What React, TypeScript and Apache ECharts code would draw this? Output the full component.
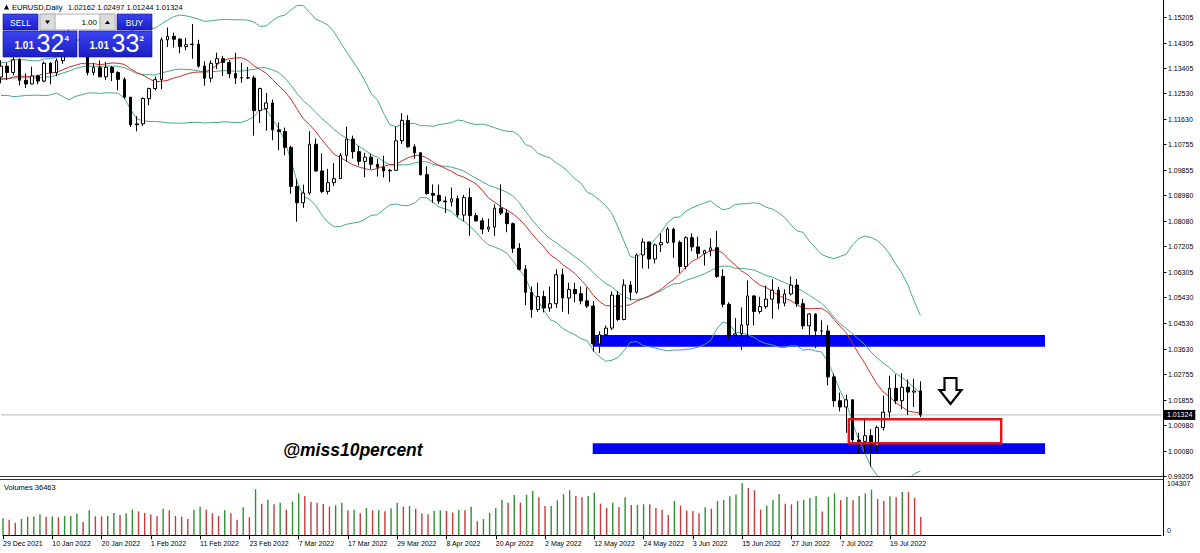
import React, { useEffect, useRef } from 'react';
import * as echarts from 'echarts';

// ---- EURUSD daily bars, 29 Dec 2021 .. 26 Jul 2022 ----
const dates: string[] = [
  '29 Dec 2021', '30 Dec 2021', '31 Dec 2021',
  '3 Jan 2022', '4 Jan 2022', '5 Jan 2022', '6 Jan 2022', '7 Jan 2022', '10 Jan 2022', '11 Jan 2022', '12 Jan 2022', '13 Jan 2022', '14 Jan 2022',
  '17 Jan 2022', '18 Jan 2022', '19 Jan 2022', '20 Jan 2022', '21 Jan 2022', '24 Jan 2022', '25 Jan 2022', '26 Jan 2022', '27 Jan 2022', '28 Jan 2022', '31 Jan 2022',
  '1 Feb 2022', '2 Feb 2022', '3 Feb 2022', '4 Feb 2022', '7 Feb 2022', '8 Feb 2022', '9 Feb 2022', '10 Feb 2022', '11 Feb 2022', '14 Feb 2022',
  '15 Feb 2022', '16 Feb 2022', '17 Feb 2022', '18 Feb 2022', '21 Feb 2022', '22 Feb 2022', '23 Feb 2022', '24 Feb 2022', '25 Feb 2022', '28 Feb 2022',
  '1 Mar 2022', '2 Mar 2022', '3 Mar 2022', '4 Mar 2022', '7 Mar 2022', '8 Mar 2022', '9 Mar 2022', '10 Mar 2022', '11 Mar 2022', '14 Mar 2022',
  '15 Mar 2022', '16 Mar 2022', '17 Mar 2022', '18 Mar 2022', '21 Mar 2022', '22 Mar 2022', '23 Mar 2022', '24 Mar 2022', '25 Mar 2022', '28 Mar 2022',
  '29 Mar 2022', '30 Mar 2022', '31 Mar 2022',
  '1 Apr 2022', '4 Apr 2022', '5 Apr 2022', '6 Apr 2022', '7 Apr 2022', '8 Apr 2022', '11 Apr 2022', '12 Apr 2022', '13 Apr 2022', '14 Apr 2022',
  '15 Apr 2022', '18 Apr 2022', '19 Apr 2022', '20 Apr 2022', '21 Apr 2022', '22 Apr 2022', '25 Apr 2022', '26 Apr 2022', '27 Apr 2022', '28 Apr 2022', '29 Apr 2022',
  '2 May 2022', '3 May 2022', '4 May 2022', '5 May 2022', '6 May 2022', '9 May 2022', '10 May 2022', '11 May 2022', '12 May 2022', '13 May 2022',
  '16 May 2022', '17 May 2022', '18 May 2022', '19 May 2022', '20 May 2022', '23 May 2022', '24 May 2022', '25 May 2022', '26 May 2022', '27 May 2022',
  '30 May 2022', '31 May 2022',
  '1 Jun 2022', '2 Jun 2022', '3 Jun 2022', '6 Jun 2022', '7 Jun 2022', '8 Jun 2022', '9 Jun 2022', '10 Jun 2022', '13 Jun 2022', '14 Jun 2022',
  '15 Jun 2022', '16 Jun 2022', '17 Jun 2022', '20 Jun 2022', '21 Jun 2022', '22 Jun 2022', '23 Jun 2022', '24 Jun 2022', '27 Jun 2022', '28 Jun 2022',
  '29 Jun 2022', '30 Jun 2022',
  '1 Jul 2022', '4 Jul 2022', '5 Jul 2022', '6 Jul 2022', '7 Jul 2022', '8 Jul 2022', '11 Jul 2022', '12 Jul 2022', '13 Jul 2022', '14 Jul 2022',
  '15 Jul 2022', '18 Jul 2022', '19 Jul 2022', '20 Jul 2022', '21 Jul 2022', '22 Jul 2022', '25 Jul 2022', '26 Jul 2022',
];

const opens: number[] = [
  1.1310, 1.1348, 1.1326, 1.1370, 1.1299, 1.1286, 1.1314, 1.1296, 1.1358, 1.1325,
  1.1367, 1.1442, 1.1455, 1.1413, 1.1406, 1.1326, 1.1343, 1.1311, 1.1344, 1.1326,
  1.1302, 1.1240, 1.1144, 1.1147, 1.1235, 1.1270, 1.1301, 1.1440, 1.1452, 1.1442,
  1.1416, 1.1423, 1.1425, 1.1348, 1.1306, 1.1358, 1.1374, 1.1361, 1.1322, 1.1307,
  1.1308, 1.1307, 1.1193, 1.1200, 1.1220, 1.1126, 1.1120, 1.1065, 1.0929, 1.0872,
  1.0906, 1.1076, 1.0983, 1.0911, 1.0942, 1.0956, 1.1037, 1.1094, 1.1050, 1.1016,
  1.1031, 1.1006, 1.0996, 1.0983, 1.0985, 1.1088, 1.1159, 1.1067, 1.1046, 1.0970,
  1.0904, 1.0898, 1.0878, 1.0875, 1.0886, 1.0829, 1.0890, 1.0827, 1.0809, 1.0780,
  1.0787, 1.0853, 1.0836, 1.0799, 1.0713, 1.0640, 1.0560, 1.0500, 1.0545, 1.0505,
  1.0520, 1.0621, 1.0540, 1.0570, 1.0555, 1.0530, 1.0512, 1.0380, 1.0412, 1.0435,
  1.0550, 1.0465, 1.0585, 1.0560, 1.0690, 1.0735, 1.0676, 1.0725, 1.0733, 1.0780,
  1.0734, 1.0650, 1.0750, 1.0718, 1.0695, 1.0705, 1.0715, 1.0615, 1.0518, 1.0410,
  1.0415, 1.0446, 1.0547, 1.0493, 1.0510, 1.0536, 1.0567, 1.0522, 1.0554, 1.0585,
  1.0520, 1.0443, 1.0484, 1.0425, 1.0425, 1.0265, 1.0182, 1.0160, 1.0185, 1.0045,
  1.0040, 1.0060, 1.0025, 1.0088, 1.0142, 1.0225, 1.0182, 1.0229, 1.0212, 1.02162,
];

const highs: number[] = [
  1.1369, 1.1360, 1.1386, 1.1376, 1.1323, 1.1346, 1.1318, 1.1364, 1.1362, 1.1375,
  1.1453, 1.1482, 1.1471, 1.1429, 1.1412, 1.1358, 1.1368, 1.1363, 1.1348, 1.1330,
  1.1309, 1.1240, 1.1174, 1.1240, 1.1273, 1.1312, 1.1448, 1.1483, 1.1465, 1.1446,
  1.1446, 1.1495, 1.1440, 1.1365, 1.1368, 1.1395, 1.1384, 1.1370, 1.1395, 1.1360,
  1.1345, 1.1315, 1.1273, 1.1255, 1.1232, 1.1152, 1.1134, 1.1070, 1.0954, 1.0935,
  1.1121, 1.1096, 1.1044, 1.0990, 1.1010, 1.1045, 1.1137, 1.1106, 1.1070, 1.1046,
  1.1043, 1.1025, 1.1036, 1.0990, 1.1137, 1.1184, 1.1177, 1.1076, 1.1048, 1.0999,
  1.0936, 1.0935, 1.0894, 1.0925, 1.0897, 1.0899, 1.0924, 1.0836, 1.0819, 1.0817,
  1.0866, 1.0936, 1.0850, 1.0803, 1.0731, 1.0655, 1.0580, 1.0593, 1.0565, 1.0580,
  1.0640, 1.0642, 1.0593, 1.0593, 1.0580, 1.0577, 1.0529, 1.0424, 1.0444, 1.0563,
  1.0565, 1.0605, 1.0599, 1.0695, 1.0748, 1.0737, 1.0730, 1.0765, 1.0787, 1.0785,
  1.0740, 1.0755, 1.0765, 1.0754, 1.0708, 1.0748, 1.0774, 1.0640, 1.0525, 1.0470,
  1.0507, 1.0601, 1.0550, 1.0544, 1.0583, 1.0605, 1.0578, 1.0570, 1.0615, 1.0606,
  1.0537, 1.0487, 1.0486, 1.0462, 1.0445, 1.0276, 1.0210, 1.0203, 1.0186, 1.0070,
  1.0122, 1.0083, 1.0095, 1.0200, 1.0269, 1.0274, 1.0278, 1.0256, 1.0258, 1.02497,
];

const lows: number[] = [
  1.1288, 1.1300, 1.1316, 1.1281, 1.1272, 1.1285, 1.1285, 1.1292, 1.1285, 1.1313,
  1.1356, 1.1429, 1.1403, 1.1397, 1.1316, 1.1316, 1.1310, 1.1300, 1.1296, 1.1264,
  1.1235, 1.1136, 1.1121, 1.1140, 1.1212, 1.1264, 1.1268, 1.1415, 1.1413, 1.1393,
  1.1404, 1.1374, 1.1343, 1.1280, 1.1292, 1.1338, 1.1314, 1.1306, 1.1286, 1.1290,
  1.1303, 1.1106, 1.1150, 1.1123, 1.1090, 1.1055, 1.1037, 1.0903, 1.0806, 1.0854,
  1.0900, 1.0980, 1.0906, 1.0901, 1.0930, 1.0955, 1.1015, 1.1026, 1.1002, 1.0961,
  1.0990, 1.0963, 1.0960, 1.0944, 1.0985, 1.1077, 1.1064, 1.1026, 1.0967, 1.0900,
  1.0872, 1.0868, 1.0836, 1.0859, 1.0822, 1.0807, 1.0757, 1.0806, 1.0763, 1.0770,
  1.0757, 1.0829, 1.0769, 1.0697, 1.0636, 1.0515, 1.0471, 1.0492, 1.0490, 1.0492,
  1.0505, 1.0492, 1.0484, 1.0525, 1.0518, 1.0505, 1.0354, 1.0348, 1.0389, 1.0428,
  1.0460, 1.0462, 1.0532, 1.0555, 1.0643, 1.0642, 1.0660, 1.0700, 1.0730, 1.0680,
  1.0627, 1.0640, 1.0703, 1.0680, 1.0653, 1.0685, 1.0610, 1.0508, 1.0398, 1.0397,
  1.0359, 1.0382, 1.0444, 1.0485, 1.0503, 1.0468, 1.0500, 1.0511, 1.0549, 1.0509,
  1.0432, 1.0382, 1.0365, 1.0405, 1.0235, 1.0161, 1.0145, 1.0070, 1.0036, 0.9998,
  0.9998, 0.9952, 1.0006, 1.0078, 1.0123, 1.0170, 1.0153, 1.0132, 1.0160, 1.01244,
];

const closes: number[] = [
  1.1348, 1.1326, 1.1370, 1.1299, 1.1286, 1.1314, 1.1296, 1.1358, 1.1325, 1.1367,
  1.1442, 1.1455, 1.1413, 1.1406, 1.1326, 1.1343, 1.1311, 1.1344, 1.1326, 1.1302,
  1.1240, 1.1144, 1.1147, 1.1235, 1.1270, 1.1301, 1.1440, 1.1452, 1.1442, 1.1416,
  1.1423, 1.1425, 1.1348, 1.1306, 1.1358, 1.1374, 1.1361, 1.1322, 1.1307, 1.1308,
  1.1307, 1.1193, 1.1270, 1.1220, 1.1126, 1.1120, 1.1065, 1.0929, 1.0872, 1.0906,
  1.1076, 1.0983, 1.0911, 1.0942, 1.0956, 1.1037, 1.1094, 1.1050, 1.1016, 1.1031,
  1.1006, 1.0996, 1.0983, 1.0985, 1.1088, 1.1159, 1.1067, 1.1046, 1.0970, 1.0904,
  1.0898, 1.0878, 1.0875, 1.0886, 1.0829, 1.0890, 1.0827, 1.0809, 1.0780, 1.0787,
  1.0853, 1.0836, 1.0799, 1.0713, 1.0640, 1.0560, 1.0500, 1.0545, 1.0505, 1.0520,
  1.0621, 1.0540, 1.0570, 1.0555, 1.0530, 1.0512, 1.0380, 1.0412, 1.0435, 1.0550,
  1.0465, 1.0585, 1.0560, 1.0690, 1.0735, 1.0676, 1.0725, 1.0733, 1.0780, 1.0734,
  1.0650, 1.0750, 1.0718, 1.0695, 1.0705, 1.0715, 1.0615, 1.0518, 1.0410, 1.0415,
  1.0446, 1.0547, 1.0493, 1.0510, 1.0536, 1.0567, 1.0522, 1.0554, 1.0585, 1.0520,
  1.0443, 1.0484, 1.0425, 1.0425, 1.0265, 1.0182, 1.0160, 1.0185, 1.0045, 1.0040,
  1.0060, 1.0025, 1.0088, 1.0142, 1.0225, 1.0182, 1.0229, 1.0212, 1.0216, 1.01324,
];

// Tick volumes per bar
const volumes: number[] = [
  34100, 31400, 25400, 32800, 37400, 37600, 42100, 37400, 37500, 36100,
  38800, 38900, 43500, 26700, 50100, 38100, 38000, 38800, 44800, 40800,
  44100, 51500, 48100, 44800, 41500, 38100, 53500, 50100, 38800, 37400,
  32800, 50800, 57500, 51500, 44100, 38800, 50100, 44100, 31400, 56200,
  36100, 92300, 63500, 71500, 62200, 65500, 51500, 67500, 84200, 78900,
  66900, 65500, 62800, 57500, 60200, 65500, 50100, 51500, 44100, 54800,
  50100, 50200, 48100, 54200, 65500, 57500, 58800, 53500, 43500, 42100,
  48800, 50100, 48800, 45500, 50800, 50100, 57500, 28100, 32800, 44800,
  54800, 71500, 65500, 80900, 65500, 81200, 88900, 76200, 58800, 58900,
  70200, 82200, 90300, 78900, 76200, 78900, 85600, 63500, 54800, 65500,
  56800, 76200, 60800, 60900, 62200, 62100, 54800, 51500, 40800, 68900,
  59500, 49500, 48800, 44100, 56200, 53500, 68900, 70900, 78200, 81600,
  104307, 94900, 90300, 51500, 59500, 70900, 82900, 63500, 62200, 68900,
  71500, 74900, 78900, 47500, 76900, 84200, 70200, 76900, 70200, 78900,
  84200, 91600, 72900, 68900, 78200, 76200, 86900, 86800, 74900, 36463,
];

// December 2021 closes preceding the first bar (feed the moving averages)
const priorCloses: number[] = [
  1.1305, 1.1316, 1.1285, 1.1268, 1.1343, 1.1290, 1.1316, 1.1285, 1.1258, 1.1289,
  1.1330, 1.1240, 1.1281, 1.1283, 1.1327, 1.1330, 1.1320, 1.1330, 1.1311,
];

// Price scale labels (right side), bottom to top
const priceTicks: number[] = [
  0.99205, 1.00080, 1.00980, 1.01855, 1.02755, 1.03630, 1.04530, 1.05430, 1.06305, 1.07205,
  1.08080, 1.08980, 1.09855, 1.10755, 1.11630, 1.12530, 1.13405, 1.14305, 1.15205,
];
const volumeTicks: number[] = [0, 104307];

// Support zones and target box: [fromBar, toBar, upperPrice, lowerPrice]
const supportZones: number[][] = [
  [95.9, 169.2, 1.04110, 1.03702],
  [95.9, 169.2, 1.00334, 0.99961],
];
const targetBox: number[][] = [[137.4, 162.1, 1.01171, 1.00334]];

const bidPrice = 1.01324;
const askPrice = 1.01332;
const lotSize = '1.00';
const symbolTitle = 'EURUSD,Daily';
const watermark = '@miss10percent';

// Indicator settings
const SMA_PERIOD = 14;
const BB_PERIOD = 20;
const BB_DEV = 2;

const FONT = '"Liberation Sans", Arial, sans-serif';
const SLOTS = 189; // bar slots across the chart width, incl. empty space on the right
const PRICE_TOP = 1.15787;
const PRICE_BOTTOM = 0.9916;
const AXIS_X = 1163.5;

function movingAverage(series: number[], offset: number, period: number): number[] {
  return closes.map((_, i) => {
    const end = i + offset;
    let s = 0;
    for (let k = end - period + 1; k <= end; k++) s += series[k];
    return s / period;
  });
}

function buildIndicators() {
  const all = [...priorCloses, ...closes];
  const off = priorCloses.length;
  const sma = movingAverage(all, off, SMA_PERIOD).map((v) => +v.toFixed(6));
  const mid = movingAverage(all, off, BB_PERIOD);
  const upper: number[] = [];
  const lower: number[] = [];
  mid.forEach((m, i) => {
    const end = i + off;
    let sq = 0;
    for (let k = end - BB_PERIOD + 1; k <= end; k++) sq += (all[k] - m) * (all[k] - m);
    const sd = Math.sqrt(sq / BB_PERIOD);
    upper.push(+(m + BB_DEV * sd).toFixed(6));
    lower.push(+(m - BB_DEV * sd).toFixed(6));
  });
  return { sma, mid: mid.map((v) => +v.toFixed(6)), upper, lower };
}

function splitQuote(p: number) {
  const s = p.toFixed(5);
  return { big: s.slice(0, 4), pips: s.slice(4, 6), frac: s.slice(6) };
}

const txt = (text: string, x: number, y: number, size: number, opts: any = {}) => ({
  type: 'text',
  z: 100,
  style: {
    text,
    x,
    y,
    fill: opts.fill ?? '#000',
    fontSize: size,
    fontFamily: FONT,
    fontWeight: opts.weight ?? 'normal',
    fontStyle: opts.style ?? 'normal',
    align: opts.align ?? 'left',
    verticalAlign: opts.valign ?? 'middle',
  },
});

function staticGraphics(): any[] {
  const last = closes.length - 1;
  const bid = splitQuote(bidPrice);
  const ask = splitQuote(askPrice);
  const blue = () =>
    new echarts.graphic.LinearGradient(0, 0, 0, 1, [
      { offset: 0, color: '#3a44f0' },
      { offset: 1, color: '#1a1ec6' },
    ]);
  return [
    // panel frames
    { type: 'line', z: 50, shape: { x1: 0, y1: 476.5, x2: AXIS_X, y2: 476.5 }, style: { stroke: '#333', lineWidth: 1 } },
    { type: 'line', z: 50, shape: { x1: 0, y1: 479.5, x2: AXIS_X, y2: 479.5 }, style: { stroke: '#333', lineWidth: 1 } },
    { type: 'line', z: 50, shape: { x1: AXIS_X, y1: 0, x2: AXIS_X, y2: 536 }, style: { stroke: '#000', lineWidth: 1 } },
    // header
    { type: 'polygon', z: 100, shape: { points: [[4, 9.5], [9, 9.5], [6.5, 4.5]] }, style: { fill: '#000' } },
    txt(symbolTitle, 12, 7.5, 7.5),
    txt([opens[last], highs[last], lows[last], closes[last]].map((v) => v.toFixed(5)).join(' '), 68, 7.5, 7.5),
    // one-click trading panel
    { type: 'rect', z: 90, shape: { x: 3, y: 14, width: 35, height: 16 }, style: { fill: blue(), stroke: '#10138a', lineWidth: 0.6 } },
    txt('SELL', 20.5, 22.5, 8.5, { fill: '#fff', align: 'center' }),
    { type: 'rect', z: 90, shape: { x: 40, y: 14, width: 75, height: 16 }, style: { fill: '#e6e6e6', stroke: '#9c9c9c', lineWidth: 0.6 } },
    { type: 'rect', z: 91, shape: { x: 40, y: 14, width: 15, height: 16 }, style: { fill: '#dcdcdc', stroke: '#9c9c9c', lineWidth: 0.6 } },
    { type: 'polygon', z: 92, shape: { points: [[45, 20.5], [50, 20.5], [47.5, 24]] }, style: { fill: '#000' } },
    { type: 'rect', z: 91, shape: { x: 56, y: 15, width: 43, height: 14 }, style: { fill: '#fff' } },
    txt(lotSize, 97, 22.5, 8, { align: 'right' }),
    { type: 'rect', z: 91, shape: { x: 100, y: 14, width: 15, height: 16 }, style: { fill: '#dcdcdc', stroke: '#9c9c9c', lineWidth: 0.6 } },
    { type: 'polygon', z: 92, shape: { points: [[105, 24], [110, 24], [107.5, 20.5]] }, style: { fill: '#000' } },
    { type: 'rect', z: 90, shape: { x: 117, y: 14, width: 35, height: 16 }, style: { fill: blue(), stroke: '#10138a', lineWidth: 0.6 } },
    txt('BUY', 134.5, 22.5, 8.5, { fill: '#fff', align: 'center' }),
    { type: 'rect', z: 90, shape: { x: 3, y: 31, width: 74, height: 26 }, style: { fill: blue(), stroke: '#10138a', lineWidth: 0.6 } },
    { type: 'rect', z: 90, shape: { x: 79, y: 31, width: 73, height: 26 }, style: { fill: blue(), stroke: '#10138a', lineWidth: 0.6 } },
    txt(bid.big, 14.5, 45, 10, { fill: '#fff', weight: 'bold' }),
    txt(bid.pips, 36.5, 43, 25, { fill: '#fff' }),
    txt(bid.frac, 64.5, 38, 8, { fill: '#fff', weight: 'bold' }),
    txt(ask.big, 89.5, 45, 10, { fill: '#fff', weight: 'bold' }),
    txt(ask.pips, 111.5, 43, 25, { fill: '#fff' }),
    txt(ask.frac, 139.5, 38, 8, { fill: '#fff', weight: 'bold' }),
    // direction arrow
    {
      type: 'polygon',
      z: 60,
      shape: { points: [[944.5, 378], [956.5, 378], [956.5, 390], [961.5, 390], [950.5, 404], [939.5, 390], [944.5, 390]] },
      style: { fill: '#fff', stroke: '#000', lineWidth: 2.2 },
    },
    txt(watermark, 283, 450, 17.5, { weight: 'bold', style: 'italic' }),
    txt('Volumes ' + volumes[last], 4, 487.5, 7.5),
  ];
}

function buildOption() {
  const categories = Array.from({ length: SLOTS }, (_, i) => dates[i] ?? '');
  const candles = opens.map((o, i) => [o, closes[i], lows[i], highs[i]]);
  const { sma, mid, upper, lower } = buildIndicators();
  const volumeBars = volumes.map((v, i) => ({
    value: v,
    itemStyle: { color: i > 0 && v <= volumes[i - 1] ? '#c83a3a' : '#2f8f35' },
  }));
  const labelEvery = (i: number) => i % 8 === 0 && i < dates.length;
  const last = closes.length - 1;

  const bandLine = (name: string, data: number[]) => ({
    name,
    type: 'line',
    xAxisIndex: 0,
    yAxisIndex: 0,
    data,
    symbol: 'none',
    lineStyle: { color: '#45a98d', width: 1 },
    silent: true,
    z: 3,
  });

  return {
    animation: false,
    backgroundColor: '#ffffff',
    textStyle: { fontFamily: FONT },
    grid: [
      { left: 1, top: 0, width: 1160, height: 477 },
      { left: 1, top: 483.3, width: 1160, height: 52 },
    ],
    xAxis: [
      { type: 'category', gridIndex: 0, data: categories, boundaryGap: false, show: false },
      {
        type: 'category',
        gridIndex: 1,
        data: categories,
        boundaryGap: false,
        axisLine: { show: true, lineStyle: { color: '#000', width: 1 } },
        axisTick: { show: true, interval: labelEvery, length: 4, lineStyle: { color: '#000' } },
        axisLabel: { interval: labelEvery, align: 'left', margin: 5, fontSize: 7, color: '#000', fontFamily: FONT },
        splitLine: { show: false },
      },
      { type: 'value', gridIndex: 0, min: 0, max: SLOTS - 1, show: false },
    ],
    yAxis: [
      {
        // price scale; its labels and ticks are drawn once the scale is laid out
        type: 'value',
        gridIndex: 0,
        position: 'right',
        offset: 2,
        min: PRICE_BOTTOM,
        max: PRICE_TOP,
        splitLine: { show: false },
        axisLine: { show: false },
        axisTick: { show: false },
        axisLabel: { show: false },
      },
      {
        type: 'value',
        gridIndex: 1,
        position: 'right',
        offset: 2,
        min: 0,
        max: volumeTicks[volumeTicks.length - 1],
        splitLine: { show: false },
        axisLine: { show: false },
        axisTick: { show: false },
        axisLabel: {
          customValues: volumeTicks,
          showMinLabel: true,
          showMaxLabel: true,
          formatter: (v: number) => (v === 0 ? '{z|0}' : String(v)),
          rich: { z: { fontSize: 7, padding: [0, 0, 10, 0], color: '#000' } },
          fontSize: 7,
          margin: 4,
          color: '#000',
          fontFamily: FONT,
        },
      },
    ],
    series: [
      {
        name: 'Zones',
        type: 'custom',
        xAxisIndex: 2,
        yAxisIndex: 0,
        clip: false,
        silent: true,
        z: 1,
        data: supportZones,
        renderItem: (_p: any, api: any) => {
          const a = api.coord([api.value(0), api.value(2)]);
          const b = api.coord([api.value(1), api.value(3)]);
          return { type: 'rect', shape: { x: a[0], y: a[1], width: b[0] - a[0], height: b[1] - a[1] }, style: { fill: '#0000ff' } };
        },
      },
      {
        name: 'Bid line',
        type: 'line',
        xAxisIndex: 2,
        yAxisIndex: 0,
        data: [
          [0, bidPrice],
          [SLOTS - 1, bidPrice],
        ],
        symbol: 'none',
        silent: true,
        z: 2,
        lineStyle: { color: '#b8b8b8', width: 1 },
        endLabel: {
          show: true,
          distance: 3,
          formatter: () => bidPrice.toFixed(5),
          backgroundColor: '#000',
          color: '#fff',
          fontSize: 7,
          padding: [2, 3, 1, 3],
          fontFamily: FONT,
        },
      },
      bandLine('BB upper', upper),
      bandLine('BB middle', mid),
      bandLine('BB lower', lower),
      {
        name: 'SMA 14',
        type: 'line',
        xAxisIndex: 0,
        yAxisIndex: 0,
        data: sma,
        symbol: 'none',
        lineStyle: { color: '#cc2f2b', width: 1 },
        silent: true,
        z: 4,
      },
      {
        name: 'EURUSD',
        type: 'candlestick',
        xAxisIndex: 0,
        yAxisIndex: 0,
        data: candles,
        barWidth: 3.2,
        z: 5,
        itemStyle: { color: '#ffffff', color0: '#000000', borderColor: '#000000', borderColor0: '#000000', borderWidth: 1 },
      },
      {
        name: 'Target',
        type: 'custom',
        xAxisIndex: 2,
        yAxisIndex: 0,
        clip: false,
        silent: true,
        z: 6,
        data: targetBox,
        renderItem: (_p: any, api: any) => {
          const a = api.coord([api.value(0), api.value(2)]);
          const b = api.coord([api.value(1), api.value(3)]);
          return {
            type: 'rect',
            shape: { x: a[0], y: a[1], width: b[0] - a[0], height: b[1] - a[1] },
            style: { fill: 'none', stroke: '#e5141c', lineWidth: 2.4 },
          };
        },
      },
      {
        name: 'Volumes',
        type: 'bar',
        xAxisIndex: 1,
        yAxisIndex: 1,
        data: volumeBars,
        barWidth: 1.4,
        silent: true,
      },
    ],
    graphic: { elements: staticGraphics() },
  };
}

// Price-scale ticks and labels placed through the laid-out y axis
function priceScaleGraphics(chart: echarts.ECharts): any[] {
  const out: any[] = [];
  priceTicks.forEach((v) => {
    const y = Math.round(chart.convertToPixel({ yAxisIndex: 0 }, v) as number) + 0.5;
    out.push({ type: 'line', z: 50, shape: { x1: AXIS_X, y1: y, x2: AXIS_X + 3, y2: y }, style: { stroke: '#000', lineWidth: 1 } });
    out.push(txt(v.toFixed(5), AXIS_X + 4.5, y, 7));
  });
  return out;
}

export default function App() {
  const ref = useRef<HTMLDivElement>(null);
  useEffect(() => {
    if (!ref.current) return;
    const chart = echarts.init(ref.current, null, { renderer: 'svg' });
    chart.setOption(buildOption() as any);
    chart.setOption({ graphic: { elements: [...staticGraphics(), ...priceScaleGraphics(chart)] } } as any, {
      replaceMerge: ['graphic'],
    });
    return () => chart.dispose();
  }, []);
  return (
    <div
      ref={ref}
      style={{ position: 'fixed', left: 0, top: 0, width: 1200, height: 553, background: '#ffffff' }}
    />
  );
}
